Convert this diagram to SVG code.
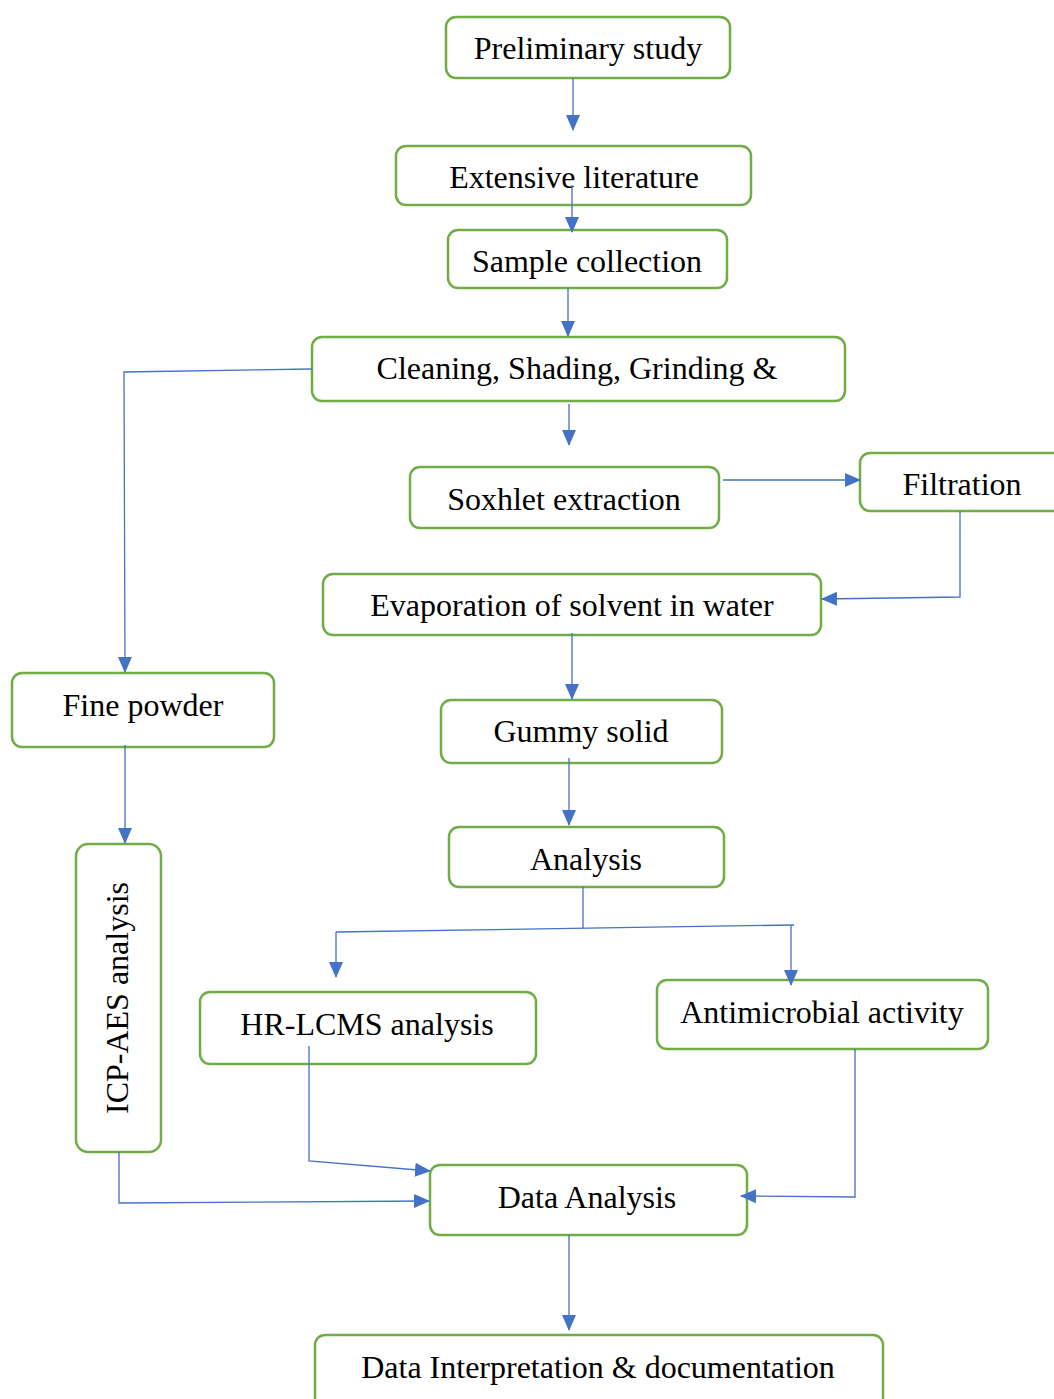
<svg xmlns="http://www.w3.org/2000/svg" width="1054" height="1399" viewBox="0 0 1054 1399">
<defs>
<marker id="ah" markerWidth="16" markerHeight="16" refX="15" refY="8" orient="auto" markerUnits="userSpaceOnUse">
<path d="M0,1 L16,8 L0,15 Z" fill="#4472C4"/>
</marker>
<style>
.box{fill:#fff;stroke:#70AD47;stroke-width:2.5}
.t{font-family:"Liberation Serif","Times New Roman",serif;font-size:32px;fill:#000;text-anchor:middle}
.c{fill:none;stroke:#4472C4;stroke-width:1.3}
.a{marker-end:url(#ah)}
</style>
</defs>
<rect width="1054" height="1399" fill="#fff"/>
<g id="n1"><rect class="box" x="446" y="17" width="284" height="61" rx="10"/><text class="t" x="588" y="59">Preliminary study</text></g>
<g id="n2"><rect class="box" x="396" y="146" width="355" height="59" rx="10"/><text class="t" x="574" y="188">Extensive literature</text></g>
<g id="n3"><rect class="box" x="448" y="230" width="279" height="58" rx="10"/><text class="t" x="587" y="272">Sample collection</text></g>
<g id="n4"><rect class="box" x="312" y="337" width="533" height="64" rx="10"/><text class="t" x="577" y="379">Cleaning, Shading, Grinding &amp;</text></g>
<g id="n5"><rect class="box" x="410" y="467" width="309" height="61" rx="10"/><text class="t" x="564" y="510">Soxhlet extraction</text></g>
<g id="n6"><rect class="box" x="860" y="453" width="204" height="58" rx="10"/><text class="t" x="962" y="495">Filtration</text></g>
<g id="n7"><rect class="box" x="323" y="574" width="498" height="61" rx="10"/><text class="t" x="572" y="616">Evaporation of solvent in water</text></g>
<g id="n8"><rect class="box" x="12" y="673" width="262" height="74" rx="10"/><text class="t" x="143" y="716">Fine powder</text></g>
<g id="n9"><rect class="box" x="441" y="700" width="281" height="63" rx="10"/><text class="t" x="581" y="742">Gummy solid</text></g>
<g id="n10"><rect class="box" x="449" y="827" width="275" height="60" rx="10"/><text class="t" x="586" y="870">Analysis</text></g>
<g id="n11"><rect class="box" x="76" y="844" width="85" height="308" rx="12"/><text class="t" transform="translate(128,998) rotate(-90)" x="0" y="0">ICP-AES analysis</text></g>
<g id="n12"><rect class="box" x="200" y="992" width="336" height="72" rx="10"/><text class="t" x="367" y="1035">HR-LCMS analysis</text></g>
<g id="n13"><rect class="box" x="657" y="980" width="331" height="69" rx="10"/><text class="t" x="822" y="1023">Antimicrobial activity</text></g>
<g id="n14"><rect class="box" x="430" y="1165" width="317" height="70" rx="10"/><text class="t" x="587" y="1208">Data Analysis</text></g>
<g id="n15"><rect class="box" x="315" y="1335" width="568" height="80" rx="10"/><text class="t" x="598" y="1378">Data Interpretation &amp; documentation</text></g>
<g id="connectors">
<path class="c a" d="M573,78 L573,130"/>
<path class="c a" d="M572,185 L572,232"/>
<path class="c a" d="M568,288 L568,336"/>
<path class="c a" d="M569,404 L569,445"/>
<path class="c a" d="M312,369 L124,372 L125,672"/>
<path class="c a" d="M723,480 L860,480"/>
<path class="c a" d="M960,511 L960,597 L822,599"/>
<path class="c a" d="M572,633 L572,699"/>
<path class="c a" d="M125,745 L125,843"/>
<path class="c a" d="M569,758 L569,825"/>
<path class="c" d="M583,887 L583,928"/>
<path class="c" d="M336,932 L794,925"/>
<path class="c a" d="M336,932 L336,977"/>
<path class="c a" d="M791,925 L791,985"/>
<path class="c a" d="M309,1046 L309,1161 L430,1171"/>
<path class="c a" d="M119,1152 L119,1203 L429,1201"/>
<path class="c a" d="M855,1049 L855,1197 L741,1196"/>
<path class="c a" d="M569,1235 L569,1330"/>
</g>
</svg>
